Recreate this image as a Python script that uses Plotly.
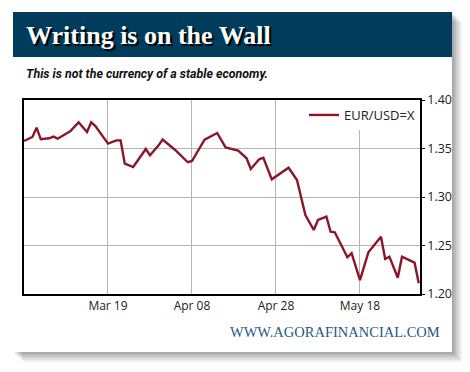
import plotly.graph_objects as go

# ---- data ----
dates = [
    "2010-02-27", "2010-03-01", "2010-03-02", "2010-03-03", "2010-03-05",
    "2010-03-06", "2010-03-07", "2010-03-09", "2010-03-10", "2010-03-12",
    "2010-03-14", "2010-03-15", "2010-03-16", "2010-03-19", "2010-03-21",
    "2010-03-22", "2010-03-23", "2010-03-25", "2010-03-28", "2010-03-29",
    "2010-03-31", "2010-04-01", "2010-04-03", "2010-04-04", "2010-04-07",
    "2010-04-08", "2010-04-11", "2010-04-14", "2010-04-16", "2010-04-19",
    "2010-04-21", "2010-04-22", "2010-04-24", "2010-04-25", "2010-04-27",
    "2010-05-01", "2010-05-03", "2010-05-05", "2010-05-07", "2010-05-08",
    "2010-05-10", "2010-05-11", "2010-05-12", "2010-05-15", "2010-05-16",
    "2010-05-18", "2010-05-20", "2010-05-21", "2010-05-23", "2010-05-24",
    "2010-05-25", "2010-05-27", "2010-05-28", "2010-05-31", "2010-06-01",
]
eurusd = [
    1.3577, 1.3619, 1.3715, 1.3595, 1.3605,
    1.3622, 1.3601, 1.3653, 1.3677, 1.3770,
    1.3670, 1.3770, 1.3732, 1.3550, 1.3584,
    1.3584, 1.3343, 1.3309, 1.3495, 1.3430,
    1.3530, 1.3592, 1.3520, 1.3485, 1.3358,
    1.3371, 1.3592, 1.3660, 1.3512, 1.3478,
    1.3399, 1.3289, 1.3389, 1.3405, 1.3182,
    1.3302, 1.3175, 1.2814, 1.2660, 1.2763,
    1.2797, 1.2642, 1.2636, 1.2378, 1.2420,
    1.2144, 1.2430, 1.2481, 1.2591, 1.2361,
    1.2385, 1.2168, 1.2385, 1.2323, 1.2110,
]
tick_dates = ["2010-03-19", "2010-04-08", "2010-04-28", "2010-05-18"]
tick_labels = ["Mar 19", "Apr 08", "Apr 28", "May 18"]
series_name = "EUR/USD=X"
title_text = "Writing is on the Wall"
subtitle_text = "This is not the currency of a stable economy."
footer_text = "WWW.AGORAFINANCIAL.COM"

# ---- layout geometry (page pixels; the page body adds an 8px margin) ----
OFF = 8
W, H = 470 - OFF, 372 - OFF
L, R, T, B = 24, 420, 100, 294   # plot box in page pixels


def px(x):
    return (x - L) / (R - L)


def py(y):
    return (B - y) / (B - T)


fig = go.Figure()
fig.add_trace(go.Scatter(
    x=dates, y=eurusd, mode="lines", name=series_name,
    line=dict(color="#8b1627", width=2.4),
))

shapes = []
# card shadow
for i, op in enumerate([0.08, 0.09, 0.10, 0.12, 0.14]):
    off = 10 - 2 * i
    shapes.append(dict(type="rect", xref="paper", yref="paper", layer="below",
                       x0=px(13 + off), x1=px(452 + off), y0=py(12 + off), y1=py(352 + off),
                       fillcolor=f"rgba(60,60,60,{op})", line=dict(width=0)))
# card
shapes.append(dict(type="rect", xref="paper", yref="paper", layer="below",
                   x0=px(13), x1=px(452), y0=py(12), y1=py(352),
                   fillcolor="white", line=dict(width=0)))
# header band
shapes.append(dict(type="rect", xref="paper", yref="paper", layer="below",
                   x0=px(13), x1=px(452), y0=py(12), y1=py(57),
                   fillcolor="#023c5c", line=dict(width=0)))

annotations = [
    dict(text=title_text, xref="paper", yref="paper", x=px(24), y=py(35),
         xanchor="left", yanchor="middle", showarrow=False,
         font=dict(family="Liberation Serif", size=26, color="white", weight="bold",
                   shadow="2px 2px 1px #000000")),
    dict(text=subtitle_text, xref="paper", yref="paper", x=px(24), y=py(73),
         xanchor="left", yanchor="middle", showarrow=False,
         font=dict(family="Roboto", size=12.4, color="#111111", weight="bold", style="italic")),
    dict(text=footer_text, xref="paper", yref="paper", x=px(442), y=py(332),
         xanchor="right", yanchor="middle", showarrow=False,
         font=dict(family="Liberation Serif", size=14.5, color="#1e5a80")),
]

fig.update_layout(
    width=W, height=H,
    margin=dict(l=L - OFF, r=470 - R, t=T - OFF, b=372 - B),
    paper_bgcolor="white", plot_bgcolor="white",
    shapes=shapes, annotations=annotations,
    showlegend=True,
    legend=dict(x=1, y=1, xanchor="right", yanchor="top", bgcolor="white",
                borderwidth=0, font=dict(family="Open Sans", size=13, color="#222222")),
    xaxis=dict(
        range=["2010-02-27", "2010-06-01 07:00"],
        tickmode="array", tickvals=tick_dates, ticktext=tick_labels,
        showgrid=True, gridcolor="#b5b5b5", gridwidth=1,
        showline=True, linecolor="black", linewidth=1.5, mirror=True,
        ticks="", tickfont=dict(family="Open Sans", size=12, color="#222222"),
        zeroline=False,
    ),
    yaxis=dict(
        range=[1.20, 1.40], side="right", dtick=0.05, tickformat=".2f",
        showgrid=True, gridcolor="#b5b5b5", gridwidth=1,
        showline=True, linecolor="black", linewidth=1.5, mirror=True,
        ticks="outside", ticklen=3, tickcolor="black",
        tickfont=dict(family="Open Sans", size=12.5, color="#222222"),
        zeroline=False,
    ),
)

fig.write_html("out.html")
